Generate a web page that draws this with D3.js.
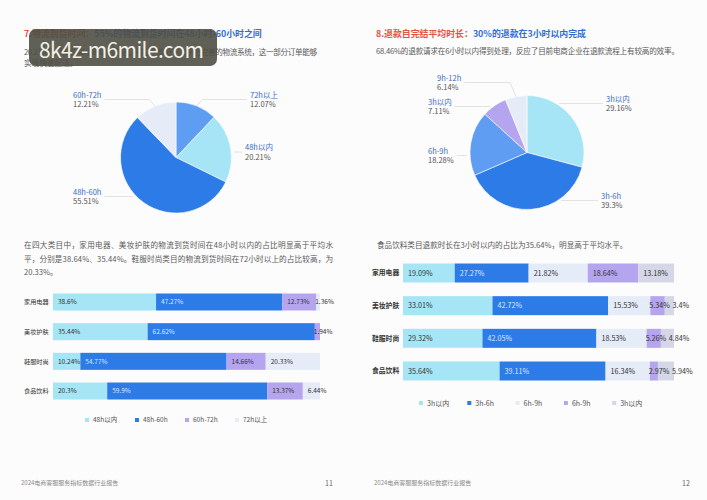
<!DOCTYPE html>
<html lang="zh">
    <head>
        <meta charset="utf-8">
        <title>物流到货时间与退款时长</title>
        <script src="https://cdn.jsdelivr.net/npm/d3@7/dist/d3.min.js"></script>
        <style type="text/css">
            body {margin: 0; background: #fcfcfc; overflow: hidden;}
            svg text {font-family: 'Noto Sans CJK SC', 'Noto Sans', sans-serif;}
        </style>
    </head>
    <body>
        <svg width="707" height="500"></svg>
        <script>
            // ---- data ----
            var pie1Names = ['72h以上', '48h以内', '48h-60h', '60h-72h'];
            var pie1Values = [12.07, 20.21, 55.51, 12.21];
            var pie2Names = ['3h以内', '3h-6h', '6h-9h', '3h以内', '9h-12h'];
            var pie2Values = [29.16, 39.3, 18.28, 7.11, 6.14];

            var categories = ['家用电器', '美妆护肤', '鞋服时尚', '食品饮料'];
            var deliverySeries = ['48h以内', '48h-60h', '60h-72h', '72h以上'];
            var deliveryValues = [
                [38.6, 47.27, 12.73, 1.36],
                [35.44, 62.62, 1.94, 0],
                [10.24, 54.77, 14.66, 20.33],
                [20.3, 59.9, 13.37, 6.44]
            ];
            var refundSeries = ['3h以内', '3h-6h', '6h-9h', '6h-9h', '3h以内'];
            var refundValues = [
                [19.09, 27.27, 21.82, 18.64, 13.18],
                [33.01, 42.72, 15.53, 5.34, 3.4],
                [29.32, 42.05, 18.53, 5.26, 4.84],
                [35.64, 39.11, 16.34, 2.97, 5.94]
            ];

            // ---- colours ----
            var cyan = '#a6e5f5', blue = '#2c7be7', midBlue = '#5e9df2', pale = '#e5ecf8',
                lilac = '#b4a5ee', greyLilac = '#d5d7e7';
            var pie1Colors = [midBlue, cyan, blue, pale];
            var pie2Colors = [cyan, blue, midBlue, lilac, pale];
            var deliveryColors = [cyan, blue, lilac, pale];
            var refundColors = [cyan, blue, pale, lilac, greyLilac];

            var red = '#e5533f', titleBlue = '#2e6fd7', bodyGrey = '#5a5a5a', nameBlue = '#3a6cc0';

            var svg = d3.select('svg');

            function text(x, y, str, size, color, opts) {
                opts = opts || {};
                var t = svg.append('text')
                    .attr('x', x).attr('y', y)
                    .attr('font-size', size)
                    .attr('fill', color)
                    .attr('font-weight', opts.weight || 'normal')
                    .attr('text-anchor', opts.anchor || 'start')
                    .text(str);
                if (opts.len) t.attr('textLength', opts.len).attr('lengthAdjust', 'spacing');
                return t;
            }

            function title(x, y, a, b) {
                var t = svg.append('text').attr('x', x).attr('y', y)
                    .attr('font-size', 8.9).attr('font-weight', 'bold');
                t.append('tspan').attr('fill', red).text(a);
                t.append('tspan').attr('fill', titleBlue).text(b);
            }

            // ---- page texts ----
            title(24, 36.5, '7.物流到货时间：', '55%的物流到货时间在48小时-60小时之间');
            title(376, 36.5, '8.退款自完结平均时长：', '30%的退款在3小时以内完成');

            text(24, 54.5, '20.21%的订单在48小时以内送达，得益于部分电商平台完善的物流系统，这一部分订单能够', 7.6, bodyGrey, {len: 293});
            text(24, 66, '实现快速配送。', 7.6, bodyGrey);
            text(376, 54, '68.46%的退款请求在6小时以内得到处理，反应了目前电商企业在退款流程上有较高的效率。', 7.6, bodyGrey, {len: 303});

            text(24, 248, '在四大类目中，家用电器、美妆护肤的物流到货时间在48小时以内的占比明显高于平均水', 7.6, bodyGrey, {len: 309});
            text(24, 262, '平，分别是38.64%、35.44%。鞋服时尚类目的物流到货时间在72小时以上的占比较高，为', 7.6, bodyGrey, {len: 309});
            text(24, 274.5, '20.33%。', 7.6, bodyGrey);
            text(377, 248, '食品饮料类目退款时长在3小时以内的占比为35.64%，明显高于平均水平。', 7.6, bodyGrey);

            text(21, 485, '2024电商客服服务指标数据行业报告', 6, '#8a8a8a');
            text(325, 485.5, '11', 7, '#666');
            text(374, 485, '2024电商客服服务指标数据行业报告', 6, '#8a8a8a');
            text(682, 485.5, '12', 7, '#666');

            // ---- pies ----
            function drawPie(cfg) {
                var pie = d3.pie().sort(null).value(function(d) { return d; });
                var arcs = pie(cfg.values);
                var arc = d3.arc().innerRadius(0).outerRadius(cfg.r);
                var g = svg.append('g').attr('transform', 'translate(' + cfg.cx + ',' + cfg.cy + ')');
                g.selectAll('path').data(arcs).enter().append('path')
                    .attr('d', arc)
                    .attr('fill', function(d, i) { return cfg.colors[i]; })
                    .attr('stroke', '#fff').attr('stroke-width', 0.6);

                arcs.forEach(function(d, i) {
                    var mid = (d.startAngle + d.endAngle) / 2;
                    var side = Math.sin(mid) >= 0 ? 1 : -1;
                    var ly = cfg.labelY[i], lx = cfg.labelX[i];
                    var n = text(lx, ly - 1.8, cfg.names[i], 7.5, nameBlue);
                    var v = text(lx, ly + 7.6, cfg.values[i] + '%', 7.5, '#555');
                    var endX = side > 0 ? lx - 3 :
                        lx + Math.max(n.node().getComputedTextLength(), v.node().getComputedTextLength()) + 3;
                    var dy = ly - cfg.cy, pts;
                    if (Math.abs(dy) < cfg.r - 2) {
                        var ex = cfg.cx + side * (Math.sqrt(cfg.r * cfg.r - dy * dy) + 3);
                        pts = [[ex, ly], [endX, ly]];
                    } else {
                        var ax = cfg.cx + cfg.r * Math.sin(mid), ay = cfg.cy - cfg.r * Math.cos(mid);
                        pts = [[ax, ay], [ax + side * 6, ly], [endX, ly]];
                    }
                    svg.append('path').attr('d', d3.line()(pts))
                        .attr('fill', 'none').attr('stroke', '#dadada').attr('stroke-width', 0.8);
                });
            }

            drawPie({cx: 176, cy: 157.5, r: 55.5, values: pie1Values, names: pie1Names, colors: pie1Colors,
                labelX: [250, 245, 73, 73], labelY: [99.5, 152, 196.5, 99.5]});
            drawPie({cx: 527, cy: 152.5, r: 57, values: pie2Values, names: pie2Names, colors: pie2Colors,
                labelX: [606, 601, 428, 428, 437], labelY: [103.5, 200.5, 155.5, 106.5, 82.5]});

            // ---- stacked bars ----
            function drawBars(cfg) {
                var keys = d3.range(cfg.series.length);
                var rows = cfg.values.map(function(v, i) {
                    var o = {cat: categories[i]};
                    keys.forEach(function(k) { o[k] = v[k]; });
                    return o;
                });
                var stacked = d3.stack().keys(keys)(rows);
                var x = d3.scaleLinear().domain([0, 100]).range(cfg.xRange);
                var y = d3.scalePoint().domain(categories).range(cfg.yRange);

                // segments first, labels on top
                stacked.forEach(function(layer, k) {
                    svg.append('g').selectAll('rect').data(layer).enter().append('rect')
                        .attr('x', function(d) { return x(d[0]); })
                        .attr('y', function(d, i) { return y(categories[i]) - cfg.h / 2; })
                        .attr('width', function(d) { return x(d[1]) - x(d[0]); })
                        .attr('height', cfg.h)
                        .attr('fill', cfg.colors[k]);
                });

                categories.forEach(function(c, i) {
                    var yc = y(c);
                    var prevEnd = -Infinity;
                    keys.forEach(function(k) {
                        var seg = stacked[k][i];
                        var val = cfg.values[i][k];
                        if (!val) return;
                        var x0 = x(seg[0]), w = x(seg[1]) - x(seg[0]);
                        var lx = Math.max(x0 + (w < 16 ? -1 : 5), prevEnd + 2.5);
                        var t = text(lx, yc + cfg.fs * 0.36, val + '%', cfg.fs,
                            k === 1 ? '#dbe8ff' : '#333');
                        prevEnd = lx + t.node().getComputedTextLength();
                    });
                    text(cfg.catX, yc + cfg.catFs * 0.36, c, cfg.catFs, '#333', {weight: cfg.catWeight});
                });

                cfg.series.forEach(function(s, k) {
                    var lx = cfg.legendX + k * cfg.legendStep;
                    svg.append('rect').attr('x', lx).attr('y', cfg.legendY - 2)
                        .attr('width', 4).attr('height', 4).attr('fill', cfg.colors[k]);
                    text(lx + 8, cfg.legendY + cfg.legendFs * 0.36, s, cfg.legendFs, '#555');
                });
            }

            drawBars({series: deliverySeries, values: deliveryValues, colors: deliveryColors,
                xRange: [53, 320], yRange: [302, 391], h: 17, fs: 6.5,
                catX: 24, catFs: 6.2, catWeight: 'normal',
                legendX: 85, legendStep: 50, legendY: 420, legendFs: 6.5});
            drawBars({series: refundSeries, values: refundValues, colors: refundColors,
                xRange: [403, 674], yRange: [273, 371], h: 19, fs: 7.2,
                catX: 372, catFs: 6.8, catWeight: 'bold',
                legendX: 419, legendStep: 48.3, legendY: 403, legendFs: 7});

            // ---- watermark overlay ----
            svg.append('rect').attr('x', 29).attr('y', 29).attr('width', 188).attr('height', 37)
                .attr('rx', 7).attr('fill', '#4f4f45').attr('opacity', 0.9);
            text(39, 58, '8k4z-m6mile.com', 21, '#f3efe4', {len: 165});
        </script>
    </body>
</html>
